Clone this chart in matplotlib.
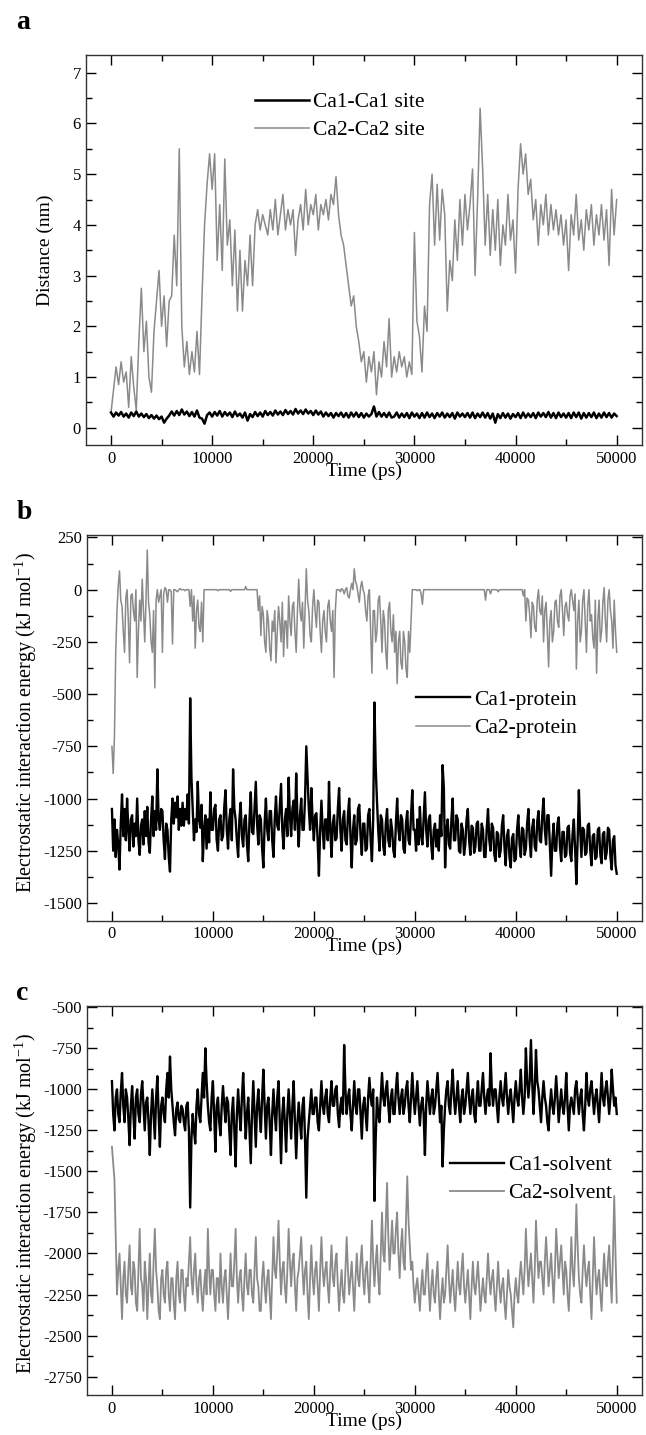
import numpy as np
import matplotlib
matplotlib.use("Agg")
import matplotlib.pyplot as plt
from matplotlib.ticker import MultipleLocator

plt.rcParams['font.family'] = ['Liberation Serif', 'DejaVu Serif']
plt.rcParams['mathtext.fontset'] = 'stix'
plt.rcParams['axes.unicode_minus'] = False

# sampling times (ps): distances every 250 ps, energies every 125 ps
time_ps = np.arange(0, 50001, 250)
time_fine = np.arange(0, 50001, 125)

# panel a: distance (nm)
ca1_site = [
    0.30, 0.22, 0.30, 0.24, 0.31, 0.22, 0.28, 0.20, 0.30, 0.23, 0.32, 0.22,
    0.28, 0.21, 0.27, 0.19, 0.25, 0.18, 0.24, 0.17, 0.22, 0.10, 0.18, 0.24,
    0.32, 0.24, 0.33, 0.25, 0.36, 0.26, 0.32, 0.23, 0.31, 0.22, 0.34, 0.20,
    0.18, 0.08, 0.25, 0.30, 0.22, 0.31, 0.24, 0.33, 0.22, 0.31, 0.24, 0.30,
    0.21, 0.32, 0.23, 0.28, 0.20, 0.30, 0.14, 0.27, 0.21, 0.31, 0.23, 0.30,
    0.22, 0.33, 0.25, 0.31, 0.24, 0.34, 0.26, 0.32, 0.25, 0.35, 0.27, 0.33,
    0.26, 0.37, 0.28, 0.34, 0.27, 0.36, 0.28, 0.33, 0.25, 0.34, 0.26, 0.32,
    0.22, 0.30, 0.23, 0.29, 0.20, 0.29, 0.23, 0.30, 0.21, 0.29, 0.20, 0.30,
    0.22, 0.30, 0.21, 0.29, 0.20, 0.28, 0.22, 0.27, 0.42, 0.22, 0.31, 0.22,
    0.29, 0.21, 0.30, 0.20, 0.22, 0.30, 0.20, 0.28, 0.21, 0.29, 0.19, 0.30,
    0.22, 0.28, 0.19, 0.29, 0.20, 0.30, 0.21, 0.28, 0.19, 0.29, 0.22, 0.30,
    0.20, 0.28, 0.21, 0.29, 0.18, 0.30, 0.22, 0.28, 0.21, 0.29, 0.20, 0.30,
    0.19, 0.28, 0.21, 0.30, 0.20, 0.29, 0.18, 0.28, 0.10, 0.27, 0.19, 0.29,
    0.20, 0.28, 0.18, 0.27, 0.21, 0.29, 0.19, 0.30, 0.20, 0.28, 0.21, 0.29,
    0.19, 0.30, 0.22, 0.29, 0.21, 0.31, 0.20, 0.29, 0.19, 0.30, 0.21, 0.28,
    0.20, 0.29, 0.19, 0.30, 0.21, 0.30, 0.18, 0.29, 0.20, 0.29, 0.21, 0.30,
    0.19, 0.28, 0.20, 0.30, 0.21, 0.29, 0.20, 0.28, 0.23,
]
ca2_site = [
    0.30, 0.75, 1.20, 0.85, 1.30, 0.90, 1.10, 0.40, 1.40, 0.80, 0.35, 1.70,
    2.75, 1.50, 2.10, 1.00, 0.70, 1.90, 2.50, 3.10, 2.00, 2.60, 1.60, 2.50,
    2.60, 3.80, 2.80, 5.50, 2.00, 1.20, 1.70, 1.05, 1.50, 1.10, 1.90, 1.05,
    2.60, 4.00, 4.80, 5.40, 4.70, 5.40, 3.30, 4.40, 3.10, 5.30, 3.60, 4.10,
    2.80, 3.90, 2.30, 3.50, 2.30, 3.30, 2.80, 3.80, 2.80, 4.00, 4.30, 3.90,
    4.20, 4.00, 3.80, 4.30, 3.90, 4.50, 3.80, 4.20, 4.60, 3.90, 4.30, 4.00,
    4.30, 3.40, 4.10, 4.40, 3.90, 4.70, 4.00, 4.40, 4.20, 4.60, 3.90, 4.40,
    4.20, 4.50, 4.10, 4.60, 4.40, 4.95, 4.20, 3.80, 3.60, 3.20, 2.80, 2.40,
    2.60, 2.00, 1.70, 1.30, 1.50, 0.90, 1.40, 1.10, 1.50, 0.65, 1.30, 1.00,
    1.70, 1.20, 2.15, 1.00, 1.40, 1.10, 1.50, 1.20, 1.40, 1.00, 1.30, 1.05,
    3.85, 2.10, 1.80, 1.10, 2.40, 1.90, 4.40, 5.00, 3.60, 4.80, 3.70, 4.70,
    4.20, 2.30, 3.30, 2.90, 4.10, 3.30, 4.50, 3.60, 4.60, 3.90, 4.40, 5.10,
    3.00, 4.50, 6.30, 5.10, 3.60, 4.60, 3.40, 4.30, 3.50, 4.50, 3.20, 4.00,
    3.60, 4.60, 3.70, 4.10, 3.05, 4.70, 5.60, 5.00, 5.40, 4.60, 4.90, 4.10,
    4.50, 3.60, 4.40, 4.00, 4.60, 3.80, 4.40, 3.90, 4.30, 3.80, 4.20, 3.60,
    4.10, 3.10, 4.20, 3.80, 4.60, 3.70, 4.10, 3.50, 4.30, 3.90, 4.40, 3.60,
    4.20, 3.80, 4.40, 3.70, 4.30, 3.20, 4.70, 3.80, 4.50,
]

# panel b: electrostatic energy with protein (kJ/mol), one row per 1000 ps
ca1_protein = [
    -1050, -1250, -1100, -1280, -1150, -1220, -1340, -1120,
    -980, -1180, -1050, -1200, -1000, -1150, -1250, -1100,
    -1080, -1230, -1120, -1180, -1000, -1200, -1270, -1130,
    -1100, -1220, -1060, -1180, -1040, -1210, -1260, -1100,
    -990, -1180, -1060, -1150, -860, -1100, -1150, -1050,
    -1060, -1200, -1290, -1120, -1150, -1280, -1350, -1100,
    -1000, -1120, -1020, -1090, -990, -1150, -1050, -1130,
    -1020, -1130, -1050, -1100, -980, -1120, -520, -900,
    -1050, -1200, -1100, -1160, -920, -1100, -1140, -1030,
    -1300, -1150, -1080, -1240, -1100, -1210, -970, -1150,
    -1150, -1050, -1030, -1200, -1250, -1100, -1080, -1200,
    -1180, -1040, -960, -1150, -1240, -1100, -1050, -1200,
    -860, -1050, -1100, -1200, -1280, -1100, -1020, -1180,
    -1230, -1100, -1080, -1220, -1300, -1100, -970, -1160,
    -1170, -1050, -920, -1120, -1220, -1080, -1100, -1240,
    -1330, -1120, -1000, -1150, -1200, -1060, -1060, -1200,
    -1280, -1100, -990, -1130, -1150, -1040, -930, -1150,
    -1240, -1100, -1050, -1180, -900, -1080, -1180, -1050,
    -1010, -1150, -880, -1100, -1230, -1080, -1000, -1150,
    -1150, -1000, -750, -900, -1050, -1150, -950, -1100,
    -1200, -1080, -1070, -1200, -1370, -1150, -1010, -1150,
    -1240, -1100, -1100, -1200, -920, -1150, -1280, -1120,
    -1080, -1200, -1190, -1050, -950, -1150, -1250, -1100,
    -1060, -1200, -1220, -1080, -1000, -1180, -1330, -1150,
    -1080, -1220, -1200, -1050, -1030, -1180, -1270, -1120,
    -1120, -1250, -1240, -1080, -1050, -1200, -1300, -1100,
    -540, -850, -1010, -1150, -1250, -1080, -1100, -1230,
    -1270, -1120, -1050, -1200, -1230, -1100, -1150, -1250,
    -1280, -1120, -1000, -1150, -1200, -1080, -1100, -1240,
    -1260, -1120, -1060, -1200, -1220, -1080, -960, -1150,
    -1150, -1250, -1100, -1220, -1040, -1180, -1220, -1100,
    -970, -1150, -1230, -1100, -1080, -1220, -1290, -1150,
    -1120, -1230, -1150, -1250, -1080, -1180, -840, -950,
    -1330, -1150, -1100, -1220, -1240, -1100, -1000, -1200,
    -1200, -1080, -1100, -1250, -1260, -1120, -1150, -1270,
    -1220, -1100, -1050, -1200, -1270, -1130, -1140, -1260,
    -1230, -1120, -1110, -1250, -1250, -1120, -1150, -1280,
    -1280, -1140, -1050, -1200, -1250, -1120, -1140, -1270,
    -1300, -1160, -1170, -1280, -1250, -1130, -1080, -1230,
    -1320, -1180, -1150, -1280, -1330, -1190, -1170, -1300,
    -1290, -1150, -1080, -1220, -1280, -1140, -1150, -1270,
    -1240, -1120, -1050, -1200, -1280, -1140, -1100, -1230,
    -1250, -1110, -1060, -1200, -1210, -1080, -1000, -1150,
    -1220, -1080, -1080, -1230, -1370, -1200, -1120, -1250,
    -1250, -1120, -1090, -1230, -1300, -1160, -1160, -1280,
    -1270, -1140, -1130, -1260, -1300, -1170, -1100, -1240,
    -1410, -1200, -960, -1150, -1280, -1140, -1150, -1270,
    -1260, -1130, -1120, -1250, -1320, -1180, -1170, -1290,
    -1280, -1150, -1140, -1270, -1310, -1170, -1160, -1290,
    -1260, -1140, -1150, -1280, -1340, -1200, -1180, -1320,
    -1360,
]
ca2_protein = [
    -750, -880, -700, -300, -100, 20, 90, -50,
    -80, -200, -300, -40, 0, -150, -350, -30,
    -20, -100, -150, 0, -420, -200, -50, -150,
    50, -100, -250, -50, 190, -60, -120, -250,
    -300, -100, -470, -50, 0, -60, -30, 0,
    -300, -20, 10, 0, -60, 0, 0, -10,
    -260, 0, 0, -5, -10, 0, 5, 0,
    0, 0, -5, 0, 0, 0, -80, 0,
    -150, -30, -280, -100, -50, -180, -200, -60,
    -250, 0, 0, 0, 0, 0, 0, 0,
    0, 0, 0, 0, -5, 0, 0, 0,
    0, 0, 0, 0, 0, 0, -8, 0,
    0, 0, 0, 0, 0, 0, 0, 0,
    0, 0, 15, 0, 0, 0, 0, 0,
    0, 0, 0, 0, -100, -30, -220, -80,
    -120, -250, -300, -100, -150, -280, -340, -150,
    -200, -100, -350, -200, -80, -150, -250, -60,
    -320, -150, -150, -280, -30, -150, -220, -80,
    -60, -200, -300, -100, 50, -100, -150, -60,
    -280, -100, 100, -50, -100, -220, -250, -80,
    0, -100, -180, -50, -60, -200, -300, -150,
    -100, -200, -250, -80, -50, -150, -200, -100,
    -420, -100, 0, 0, 0, -10, 5, 0,
    -20, 0, 10, -30, -40, 0, 30, 0,
    100, 40, 20, -20, -60, 10, 40, 0,
    -20, -100, -150, -30, 0, -200, -400, -100,
    -100, -250, -200, -50, -30, -150, -300, -100,
    -150, -300, -380, -100, -60, -200, -250, -120,
    -300, -200, -450, -250, -200, -350, -380, -200,
    -250, -380, -420, -200, -300, -150, 0, 0,
    0, 0, -5, 0, 0, -20, -70, 0,
    0, 0, 0, 0, 0, 0, 0, 0,
    0, 0, 0, 0, 0, 0, 0, 0,
    0, 0, 0, 0, 0, 0, 0, 0,
    0, 0, 0, 0, 0, 0, 0, 0,
    0, 0, 0, 0, 0, 0, 0, 0,
    0, 0, 0, 0, 0, 0, 0, 0,
    -50, 0, 0, 0, -20, 0, 0, 0,
    0, 0, -10, 0, 0, 0, 0, 0,
    0, 0, 0, 0, 0, 0, 0, 0,
    0, 0, 0, 0, 0, 0, -30, 0,
    -150, -40, -50, -120, -230, -60, -80, -180,
    -200, -50, 0, -100, -120, -30, -250, -100,
    -60, -200, -370, -150, -100, -250, -200, -60,
    -50, -150, -180, -30, 0, -100, -220, -80,
    -60, -120, -150, -30, 0, -50, -100, -20,
    -380, -150, -50, -250, -200, -50, 0, -150,
    -300, -80, 0, -150, -120, -230, -280, -50,
    -400, -150, -50, -250, -200, -60, 10, -150,
    -250, -50, 0, -100, -150, -280, -50, -200,
    -300,
]

# panel c: electrostatic energy with solvent (kJ/mol), one row per 1000 ps
ca1_solvent = [
    -950, -1150, -1250, -1050, -1000, -1150, -1200, -1020,
    -900, -1100, -1200, -1000, -1050, -1180, -1340, -1100,
    -980, -1150, -1300, -1050, -1000, -1150, -1200, -1030,
    -950, -1100, -1250, -1080, -1050, -1200, -1400, -1150,
    -1000, -1150, -1300, -1050, -920, -1150, -1350, -1100,
    -1050, -1150, -1200, -1000, -900, -1050, -800, -1000,
    -1100, -1200, -1280, -1120, -1080, -1180, -1200, -1100,
    -1120, -1200, -1250, -1100, -1080, -1250, -1720, -1300,
    -1150, -1250, -1330, -1100, -1000, -1150, -1200, -1050,
    -900, -1050, -750, -950, -1100, -1200, -1250, -1050,
    -950, -1150, -1380, -1100, -1050, -1200, -1280, -1100,
    -980, -1100, -1200, -1050, -1080, -1250, -1400, -1150,
    -1050, -1250, -1470, -1150, -1000, -1150, -1250, -1050,
    -900, -1100, -1300, -1150, -1050, -1250, -1450, -1150,
    -950, -1150, -1350, -1100, -1000, -1150, -1260, -1050,
    -880, -1100, -1300, -1100, -1050, -1200, -1400, -1150,
    -1000, -1150, -1250, -1050, -950, -1200, -1450, -1150,
    -1050, -1200, -1380, -1150, -1000, -1150, -1300, -1100,
    -950, -1200, -1420, -1200, -1080, -1200, -1300, -1100,
    -1050, -1300, -1660, -1300, -1200, -1100, -1000, -1150,
    -1150, -1050, -1050, -1200, -1250, -1100, -950, -1100,
    -1150, -1050, -1000, -1150, -1200, -1050, -950, -1100,
    -1100, -1000, -980, -1150, -1230, -1100, -1050, -1150,
    -730, -1000, -1150, -1050, -1000, -1150, -1250, -1100,
    -950, -1100, -1150, -1000, -1000, -1150, -1300, -1100,
    -1050, -1150, -1250, -1050, -930, -1050, -1100, -1000,
    -1680, -1300, -1050, -1150, -1200, -1050, -900, -1050,
    -1100, -1000, -950, -1100, -1200, -1050, -1000, -1150,
    -1150, -1000, -900, -1050, -1150, -1050, -1000, -1150,
    -1100, -1000, -950, -1100, -1200, -1050, -900, -1050,
    -1150, -1050, -950, -1100, -1220, -1100, -1050, -1150,
    -1400, -1100, -950, -1050, -1150, -1050, -1000, -1150,
    -1100, -1000, -900, -1050, -1200, -1100, -1470, -1250,
    -1100, -1000, -950, -1100, -1150, -1000, -880, -1050,
    -1150, -1050, -950, -1100, -1200, -1050, -1000, -1150,
    -1100, -1000, -900, -1050, -1150, -1050, -1000, -1150,
    -1200, -1050, -950, -1100, -1100, -1000, -900, -1050,
    -1150, -1050, -1000, -1100, -780, -1000, -1100, -1000,
    -1000, -1100, -1200, -1050, -950, -1050, -1100, -1000,
    -900, -1050, -1150, -1050, -1000, -1100, -1200, -1050,
    -950, -1050, -1100, -1000, -880, -1050, -1150, -1050,
    -750, -950, -1050, -950, -700, -950, -1150, -1000,
    -760, -950, -1000, -1100, -1200, -1050, -950, -1050,
    -1100, -1200, -1250, -1100, -1000, -1100, -1150, -1050,
    -920, -1050, -1200, -1100, -1000, -1100, -1150, -1050,
    -900, -1100, -1250, -1100, -1050, -1100, -1150, -1000,
    -950, -1050, -1150, -1050, -1000, -1150, -1250, -1100,
    -900, -1050, -1100, -1000, -950, -1050, -1150, -1050,
    -1000, -1100, -1200, -1050, -900, -1050, -1100, -1000,
    -950, -1050, -1150, -1050, -880, -1000, -1100, -1050,
    -1150,
]
ca2_solvent = [
    -1350, -1450, -1550, -1900, -2250, -2100, -2000, -2200,
    -2400, -2150, -2050, -2250, -2300, -2100, -1950, -2200,
    -2250, -2050, -2100, -2300, -2350, -2100, -1850, -2150,
    -2200, -2350, -2050, -2150, -2400, -2200, -2000, -2250,
    -2300, -2050, -1850, -2100, -2200, -2350, -2400, -2150,
    -2100, -2250, -2300, -2100, -2050, -2250, -2350, -2150,
    -2150, -2300, -2400, -2150, -2050, -2250, -2300, -2100,
    -2100, -2250, -2350, -2150, -2200, -2050, -1900, -2150,
    -2250, -2100, -2000, -2200, -2300, -2150, -2100, -2250,
    -2350, -2200, -2100, -2250, -1850, -2100, -2250, -2100,
    -2100, -2250, -2350, -2150, -2150, -2300, -2000, -2200,
    -2300, -2150, -2100, -2250, -2400, -2200, -2000, -2200,
    -2200, -2050, -1850, -2150, -2300, -2150, -2100, -2250,
    -2350, -2150, -2000, -2200, -2250, -2100, -2100, -2250,
    -2300, -2100, -1900, -2150, -2200, -2350, -2350, -2150,
    -2050, -2200, -2300, -2150, -2100, -2250, -2400, -2150,
    -1900, -2100, -2150, -2000, -1800, -2050, -2250, -2100,
    -2050, -2200, -2300, -2100, -1850, -2050, -2200, -2050,
    -2000, -2200, -2350, -2150, -2100, -2000, -1900, -2100,
    -2250, -2100, -2050, -2250, -2400, -2150, -1950, -2150,
    -2250, -2100, -2050, -2200, -2350, -2100, -1900, -2100,
    -2200, -2100, -2050, -2200, -2300, -2100, -1950, -2150,
    -2200, -2050, -2000, -2200, -2350, -2200, -2100, -2250,
    -2300, -2100, -1900, -2100, -2250, -2150, -2050, -2200,
    -2350, -2150, -2000, -2150, -2200, -2050, -1950, -2150,
    -2250, -2100, -2050, -2200, -2300, -2050, -1800, -2050,
    -2200, -2050, -1950, -2150, -2250, -2000, -1750, -2000,
    -2050, -1800, -1570, -1900, -2100, -1950, -1800, -2000,
    -2000, -1850, -1750, -2000, -2150, -1950, -1850, -2050,
    -2100, -1800, -1530, -1800, -1950, -2100, -2050, -2200,
    -2300, -2200, -2150, -2250, -2350, -2200, -2100, -2250,
    -2250, -2100, -2000, -2200, -2350, -2200, -2100, -2250,
    -2300, -2150, -2050, -2250, -2400, -2250, -2150, -2300,
    -2250, -2100, -1950, -2150, -2300, -2200, -2100, -2250,
    -2350, -2200, -2050, -2200, -2250, -2100, -2000, -2200,
    -2300, -2200, -2100, -2250, -2400, -2200, -2050, -2200,
    -2250, -2150, -2050, -2200, -2350, -2250, -2150, -2250,
    -2300, -2150, -2000, -2150, -2250, -2150, -2100, -2250,
    -2350, -2200, -2050, -2200, -2300, -2200, -2150, -2300,
    -2400, -2250, -2100, -2200, -2250, -2350, -2450, -2250,
    -2150, -2250, -2300, -2150, -2050, -2150, -2250, -2100,
    -1850, -2050, -2200, -2100, -2000, -2150, -2300, -2100,
    -1800, -2000, -2150, -2050, -2050, -2150, -2250, -2050,
    -1900, -2050, -2200, -2100, -2000, -2150, -2300, -2100,
    -1850, -2000, -2150, -2050, -1950, -2100, -2250, -2050,
    -2100, -2250, -2350, -2150, -1900, -2100, -2200, -2000,
    -1700, -1950, -2150, -2250, -2300, -2100, -1950, -2100,
    -2200, -2100, -2050, -2250, -2400, -2150, -1900, -2100,
    -2250, -2150, -2100, -2250, -2350, -2150, -2000, -2150,
    -2200, -2050, -1950, -2150, -2300, -2000, -1650, -2000,
    -2300,
]

GRAY = '#8a8a8a'
energy_label = 'Electrostatic interaction energy (kJ mol$^{\\mathregular{-1}}$)'

fig = plt.figure(figsize=(6.46, 14.35), dpi=100)
ax_a = fig.add_axes([0.1327, 0.6899, 0.861, 0.2718])
ax_b = fig.add_axes([0.1342, 0.3584, 0.8596, 0.2688])
ax_c = fig.add_axes([0.1342, 0.0279, 0.8596, 0.2713])


def style(ax, ymaj, ymin):
    ax.set_xlim(-2500, 52500)
    ax.xaxis.set_major_locator(MultipleLocator(10000))
    ax.xaxis.set_minor_locator(MultipleLocator(5000))
    ax.yaxis.set_major_locator(MultipleLocator(ymaj))
    ax.yaxis.set_minor_locator(MultipleLocator(ymin))
    ax.tick_params(which='both', direction='in', top=True, right=True,
                   labelsize=12, width=1)
    ax.tick_params(which='major', length=7)
    ax.tick_params(which='minor', length=4)
    ax.tick_params(axis='x', pad=4)
    ax.set_xlabel('Time (ps)', fontsize=14, labelpad=-3)
    for s in ax.spines.values():
        s.set_linewidth(1)
        s.set_color('#333333')


leg_kw = dict(loc='upper left', frameon=False, fontsize=15.5, handlelength=2.5,
              handletextpad=0.2, labelspacing=0.38, borderpad=0, borderaxespad=0,
              bbox_transform=fig.transFigure)

# a
ax_a.plot(time_ps, ca2_site, color=GRAY, lw=1.1, label='Ca2-Ca2 site', zorder=2)
ax_a.plot(time_ps, ca1_site, color='black', lw=1.8, label='Ca1-Ca1 site', zorder=3)
ax_a.set_ylim(-0.34, 7.35)
style(ax_a, 1, 0.5)
ax_a.set_ylabel('Distance (nm)', fontsize=14)
ax_a.yaxis.set_label_coords(-0.057, 0.5)
h, l = ax_a.get_legend_handles_labels()
ax_a.legend(h[::-1], l[::-1], bbox_to_anchor=(0.3947, 0.9359), **leg_kw)

# b
ax_b.plot(time_fine, ca1_protein, color='black', lw=1.7, label='Ca1-protein')
ax_b.plot(time_fine, ca2_protein, color=GRAY, lw=1.1, label='Ca2-protein')
ax_b.set_ylim(-1585, 262)
style(ax_b, 250, 125)
ax_b.set_ylabel(energy_label, fontsize=14.5)
ax_b.yaxis.set_label_coords(-0.086, 0.513)
ax_b.legend(bbox_to_anchor=(0.644, 0.5192), **leg_kw)

# c
ax_c.plot(time_fine, ca1_solvent, color='black', lw=1.7, label='Ca1-solvent')
ax_c.plot(time_fine, ca2_solvent, color=GRAY, lw=1.3, label='Ca2-solvent')
ax_c.set_ylim(-2862, -490)
style(ax_c, 250, 125)
ax_c.set_ylabel(energy_label, fontsize=14.5)
ax_c.yaxis.set_label_coords(-0.086, 0.492)
ax_c.legend(bbox_to_anchor=(0.6966, 0.1951), **leg_kw)

fig.text(0.035, 0.984, 'a', fontsize=20, fontweight='bold', ha='center', va='center')
fig.text(0.037, 0.643, 'b', fontsize=20, fontweight='bold', ha='center', va='center')
fig.text(0.035, 0.308, 'c', fontsize=20, fontweight='bold', ha='center', va='center')

fig.savefig('out.png', dpi=100)
